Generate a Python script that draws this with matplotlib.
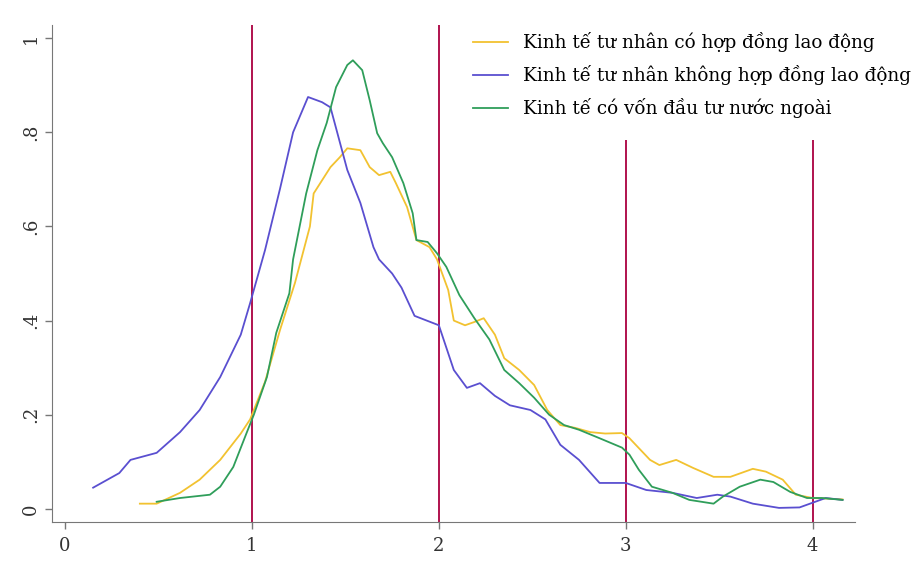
import matplotlib.pyplot as plt

# Kernel density curves
x_co_hd = [0.40, 0.49, 0.615, 0.72, 0.83, 0.94, 0.99, 1.07, 1.15, 1.23, 1.31, 1.33, 1.42, 1.47, 1.51,
           1.58, 1.63, 1.68, 1.74, 1.77, 1.83, 1.88, 1.95, 1.99, 2.05, 2.08, 2.14, 2.19, 2.24, 2.30,
           2.35, 2.43, 2.51, 2.58, 2.65, 2.73, 2.81, 2.89, 2.98, 3.02, 3.13, 3.18, 3.27, 3.36, 3.47,
           3.56, 3.68, 3.75, 3.84, 3.91, 4.00, 4.07, 4.16]
y_co_hd = [0.011, 0.011, 0.034, 0.062, 0.104, 0.160, 0.190, 0.270, 0.380, 0.480, 0.600, 0.670, 0.726, 0.747, 0.766,
           0.762, 0.726, 0.709, 0.716, 0.692, 0.641, 0.571, 0.556, 0.530, 0.465, 0.400, 0.390, 0.397, 0.405, 0.370,
           0.320, 0.295, 0.263, 0.210, 0.178, 0.172, 0.163, 0.160, 0.161, 0.150, 0.104, 0.093, 0.104, 0.087, 0.068,
           0.068, 0.085, 0.079, 0.062, 0.030, 0.023, 0.022, 0.020]

x_khong_hd = [0.15, 0.29, 0.35, 0.49, 0.615, 0.72, 0.83, 0.94, 0.99, 1.07, 1.15, 1.22, 1.30, 1.375, 1.42,
              1.51, 1.58, 1.65, 1.68, 1.75, 1.80, 1.87, 2.00, 2.08, 2.15, 2.22, 2.30, 2.38, 2.49, 2.57,
              2.65, 2.75, 2.86, 3.00, 3.11, 3.25, 3.38, 3.49, 3.56, 3.68, 3.82, 3.93, 4.00, 4.07, 4.16]
y_khong_hd = [0.045, 0.076, 0.104, 0.119, 0.163, 0.210, 0.280, 0.370, 0.437, 0.550, 0.680, 0.800, 0.875, 0.864, 0.853,
              0.720, 0.650, 0.556, 0.530, 0.500, 0.470, 0.410, 0.390, 0.295, 0.257, 0.267, 0.240, 0.220, 0.210, 0.190,
              0.136, 0.104, 0.055, 0.055, 0.040, 0.034, 0.023, 0.030, 0.026, 0.011, 0.002, 0.003, 0.013, 0.023, 0.019]

x_fdi = [0.49, 0.615, 0.775, 0.83, 0.90, 0.97, 1.01, 1.08, 1.13, 1.20, 1.22, 1.29, 1.35, 1.40, 1.45,
         1.51, 1.54, 1.59, 1.63, 1.67, 1.70, 1.75, 1.81, 1.86, 1.88, 1.94, 1.99, 2.04, 2.11, 2.19,
         2.27, 2.35, 2.43, 2.51, 2.59, 2.67, 2.75, 2.86, 2.98, 3.02, 3.07, 3.14, 3.25, 3.34, 3.47,
         3.52, 3.61, 3.72, 3.79, 3.88, 3.97, 4.05, 4.16]
y_fdi = [0.015, 0.023, 0.030, 0.047, 0.089, 0.160, 0.200, 0.280, 0.374, 0.458, 0.530, 0.670, 0.762, 0.820, 0.896,
         0.943, 0.953, 0.932, 0.868, 0.798, 0.777, 0.747, 0.692, 0.628, 0.571, 0.567, 0.543, 0.514, 0.454, 0.405,
         0.360, 0.295, 0.267, 0.236, 0.200, 0.178, 0.168, 0.150, 0.130, 0.115, 0.083, 0.047, 0.034, 0.019, 0.011,
         0.026, 0.047, 0.062, 0.057, 0.036, 0.023, 0.023, 0.019]

labels = ["Kinh tế tư nhân có hợp đồng lao động",
          "Kinh tế tư nhân không hợp đồng lao động",
          "Kinh tế có vốn đầu tư nước ngoài"]
colors = ["#f2c230", "#5a4fd0", "#2f9e5a"]

# reference lines: position and top of line
cut_x = [1, 2, 3, 4]
cut_top = [1.03, 1.03, 0.783, 0.783]

fig = plt.figure(figsize=(9.19, 5.63), dpi=100)
ax = fig.add_axes([0.0566, 0.0728, 0.8734, 0.8828])

ymin, ymax = -0.028, 1.028
for cx, ct in zip(cut_x, cut_top):
    ax.vlines(cx, ymin, ct, color="#b0124e", lw=1.4, zorder=1)

ax.plot(x_co_hd, y_co_hd, color=colors[0], lw=1.3, label=labels[0], zorder=2)
ax.plot(x_khong_hd, y_khong_hd, color=colors[1], lw=1.3, label=labels[1], zorder=3)
ax.plot(x_fdi, y_fdi, color=colors[2], lw=1.3, label=labels[2], zorder=4)

ax.set_xlim(-0.07, 4.225)
ax.set_ylim(ymin, ymax)
ax.set_xticks([0, 1, 2, 3, 4])
ax.set_xticklabels(["0", "1", "2", "3", "4"], family="DejaVu Serif")
ax.set_yticks([0, 0.2, 0.4, 0.6, 0.8, 1])
ax.set_yticklabels(["0", ".2", ".4", ".6", ".8", "1"], rotation=90, va="center", family="DejaVu Serif")

for s in ["top", "right"]:
    ax.spines[s].set_visible(False)
for s in ["left", "bottom"]:
    ax.spines[s].set_color("#777777")
ax.tick_params(colors="#777777", labelcolor="#333333", labelsize=13, length=5, width=1)
ax.tick_params(axis="x", pad=6)

leg = ax.legend(loc="upper left", bbox_to_anchor=(0.5147, 0.943), bbox_transform=fig.transFigure,
                frameon=False, prop={"family": "DejaVu Serif", "size": 13.2},
                borderpad=0, borderaxespad=0, handlelength=1.9, handletextpad=0.8,
                labelspacing=0.72)

fig.savefig("out.png", dpi=100)
